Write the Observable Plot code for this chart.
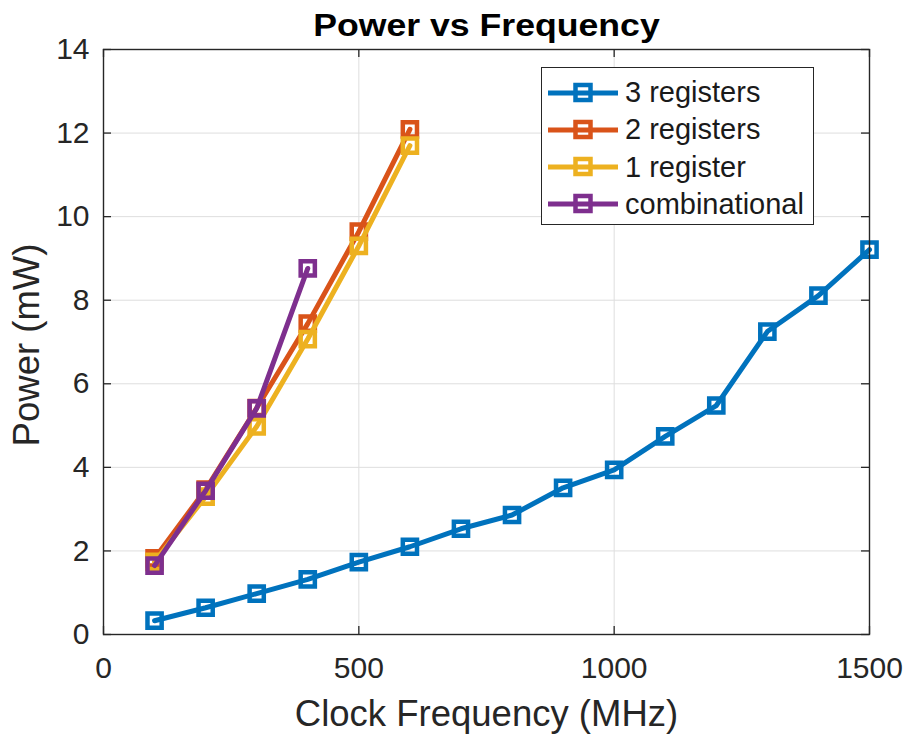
<!DOCTYPE html>
<html>
<head>
<meta charset="utf-8">
<script src="https://cdn.jsdelivr.net/npm/d3@7"></script>
<script src="https://cdn.jsdelivr.net/npm/@observablehq/plot@0.6"></script>
<style>
  html, body { margin: 0; padding: 0; background: #fff; }
  #wrap { position: relative; width: 907px; height: 736px; font-family: 'Liberation Sans', Arial, Helvetica, sans-serif; }
  #legend { position: absolute; left: 541px; top: 67px; width: 273px; height: 158px; border: 1.5px solid #262626; background: #fff; box-sizing: border-box; }
  .row { position: absolute; left: 0; height: 36px; display: flex; align-items: center; font-size: 29px; color: #1a1a1a; white-space: nowrap; }
  .row svg { margin-left: 5px; margin-right: 6px; }
</style>
</head>
<body>
<div id="wrap"></div>
<script>
// ---- data ----
const seriesNames = ["3 registers", "2 registers", "1 register", "combinational"];
const seriesColors = ["#0072BD", "#D95319", "#EDB120", "#7E2F8E"];

const freq3 = [100, 200, 300, 400, 500, 600, 700, 800, 900, 1000, 1100, 1200, 1300, 1400, 1500];
const power3 = [0.33, 0.64, 0.98, 1.32, 1.73, 2.10, 2.53, 2.86, 3.51, 3.94, 4.74, 5.48, 7.25, 8.11, 9.21];

const freq2 = [100, 200, 300, 400, 500, 600];
const power2 = [1.82, 3.47, 5.42, 7.44, 9.64, 12.09];

const freq1 = [100, 200, 300, 400, 500, 600];
const power1 = [1.74, 3.30, 4.98, 7.07, 9.30, 11.70];

const freqC = [100, 200, 300, 400];
const powerC = [1.65, 3.44, 5.41, 8.76];

const xTicks = [0, 500, 1000, 1500];
const yTicks = [0, 2, 4, 6, 8, 10, 12, 14];

const titleText = "Power vs Frequency";
const xLabel = "Clock Frequency (MHz)";
const yLabel = "Power (mW)";

// ---- build table ----
const seriesData = [
  [freq3, power3], [freq2, power2], [freq1, power1], [freqC, powerC]
].map(([fs, ps], i) => fs.map((f, j) => ({series: seriesNames[i], f, p: ps[j]})));

const W = 907, H = 736;
const mt = 49, mr = 38, mb = 102, ml = 103;
const innerW = W - ml - mr, innerH = H - mt - mb;
const tickLen = 8;
const font = "'Liberation Sans', Arial, Helvetica, sans-serif";

const seriesMarks = seriesData.flatMap((d, i) => [
  Plot.line(d, {x: "f", y: "p", stroke: seriesColors[i], strokeWidth: 5, strokeLinejoin: "round"}),
  Plot.dot(d, {x: "f", y: "p", symbol: "square", r: 8, stroke: seriesColors[i], strokeWidth: 4.5, fill: "none"})
]);

const chart = Plot.plot({
  width: W, height: H,
  marginTop: mt, marginRight: mr, marginBottom: mb, marginLeft: ml,
  style: {fontFamily: font, background: "#fff", color: "#262626"},
  x: {domain: [0, 1500]},
  y: {domain: [0, 14]},
  marks: [
    Plot.gridX(xTicks, {stroke: "#dedede", strokeOpacity: 1, strokeWidth: 1}),
    Plot.gridY(yTicks, {stroke: "#dedede", strokeOpacity: 1, strokeWidth: 1}),
    // inward ticks
    Plot.ruleX(xTicks, {x: d => d, insetTop: innerH - tickLen, stroke: "#262626", strokeWidth: 1.3}),
    Plot.ruleX(xTicks, {x: d => d, insetBottom: innerH - tickLen, stroke: "#262626", strokeWidth: 1.3}),
    Plot.ruleY(yTicks, {y: d => d, insetRight: innerW - tickLen, stroke: "#262626", strokeWidth: 1.3}),
    Plot.ruleY(yTicks, {y: d => d, insetLeft: innerW - tickLen, stroke: "#262626", strokeWidth: 1.3}),
    Plot.axisX(xTicks, {tickSize: 0, tickPadding: 22, fontSize: 30, label: null, tickFormat: d => String(d)}),
    Plot.axisY(yTicks, {tickSize: 0, tickPadding: 14, fontSize: 30, label: null, tickFormat: d => String(d)}),
    ...seriesMarks,
    Plot.frame({stroke: "#262626", strokeWidth: 1.4}),
    Plot.text([titleText], {frameAnchor: "top", lineAnchor: "bottom", dy: -14, fontSize: 31, fontWeight: "bold", fill: "#000"}),
    Plot.text([xLabel], {frameAnchor: "bottom", lineAnchor: "bottom", dy: 91, fontSize: 36.5, fill: "#262626"}),
    Plot.text([yLabel], {frameAnchor: "left", textAnchor: "middle", lineAnchor: "bottom", rotate: -90, dx: -65, dy: 3, fontSize: 36.5, fill: "#262626"})
  ]
});

const wrap = document.getElementById("wrap");
wrap.appendChild(chart);

// widen the bold title slightly, as in the reference
(function () {
  const svg = chart.tagName.toLowerCase() === "svg" ? chart : chart.querySelector("svg");
  const t = [...svg.querySelectorAll("text")].find(n => n.textContent === titleText);
  if (!t) return;
  let g = t;
  while (g.parentNode && g.parentNode !== svg) g = g.parentNode;
  const r = t.getBoundingClientRect(), s = svg.getBoundingClientRect();
  const cx = r.left + r.width / 2 - s.left;
  const wrapG = document.createElementNS("http://www.w3.org/2000/svg", "g");
  wrapG.setAttribute("transform", `translate(${cx},0) scale(1.15,1) translate(${-cx},0)`);
  svg.insertBefore(wrapG, g);
  wrapG.appendChild(g);
})();

// legend
const legend = document.createElement("div");
legend.id = "legend";
seriesNames.forEach((name, i) => {
  const row = document.createElement("div");
  row.className = "row";
  row.style.top = (6.5 + i * 37.3) + "px";
  const c = seriesColors[i];
  row.innerHTML = `<svg width="72" height="24" viewBox="0 0 72 24">
      <line x1="1" y1="12" x2="71" y2="12" stroke="${c}" stroke-width="5"/>
      <rect x="28.5" y="4" width="15" height="15" fill="none" stroke="${c}" stroke-width="4.5"/>
    </svg><span>${name}</span>`;
  legend.appendChild(row);
});
wrap.appendChild(legend);
</script>
</body>
</html>
